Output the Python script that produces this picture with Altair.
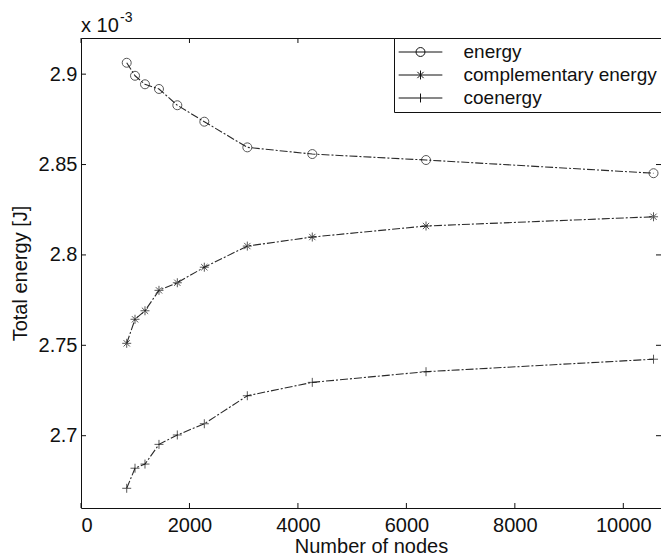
import altair as alt
import pandas as pd

# ---- data ----
nodes = [843, 996, 1180, 1438, 1776, 2274, 3067, 4265, 6362, 10557]
energy = [2.9063, 2.8991, 2.8944, 2.8918, 2.8828, 2.8737, 2.8595, 2.8558, 2.8525, 2.8452]
complementary = [2.7511, 2.7644, 2.7691, 2.7804, 2.7846, 2.7932, 2.8049, 2.8099, 2.8160, 2.8211]
coenergy = [2.6709, 2.6820, 2.6843, 2.6952, 2.7004, 2.7066, 2.7221, 2.7295, 2.7354, 2.7423]
series = ["energy", "complementary energy", "coenergy"]
x_ticks = [0, 2000, 4000, 6000, 8000, 10000]
y_ticks = [2.7, 2.75, 2.8, 2.85, 2.9]

rows = []
for name, vals in zip(series, [energy, complementary, coenergy]):
    for n, v in zip(nodes, vals):
        rows.append({"nodes": n, "value": v, "series": name})
df = pd.DataFrame(rows)
xt = pd.DataFrame({"nodes": x_ticks})
yt = pd.DataFrame({"value": y_ticks})

W, H = 580, 470
FONT = "Liberation Sans"
TL = 5  # inward tick length

xscale = alt.Scale(domain=[0, 10695], nice=False, zero=False)
yscale = alt.Scale(domain=[2.66, 2.92], nice=False, zero=False)

xaxis = alt.Axis(values=x_ticks, format="d", title="Number of nodes",
                 grid=False, domain=False, ticks=False, labelPadding=7,
                 titlePadding=1)
yaxis = alt.Axis(values=y_ticks, format="~g", title="Total energy [J]",
                 grid=False, domain=False, ticks=False, labelPadding=4,
                 titlePadding=8)

marker_paths = [
    "M1,0A1,1,0,1,1,-1,0A1,1,0,1,1,1,0Z",
    "M-1,0H1M0,-1V1M-0.7,-0.7L0.7,0.7M-0.7,0.7L0.7,-0.7",
    "M-1,0H1M0,-1V1",
]
# legend samples: a line through the marker (scale 9.5 px per unit)
legend_paths = [
    "M-2.3,0H2.3M0.47,0A0.47,0.47,0,1,1,-0.47,0A0.47,0.47,0,1,1,0.47,0Z",
    "M-2.3,0H2.3M0,-0.47V0.47M-0.33,-0.33L0.33,0.33M-0.33,0.33L0.33,-0.33",
    "M-2.3,0H2.3M0,-0.47V0.47",
]

base = alt.Chart(df)

lines = base.mark_line(color="#2a2a2a", strokeWidth=1.1, strokeDash=[8, 2, 2, 2]).encode(
    x=alt.X("nodes:Q", scale=xscale, axis=xaxis),
    y=alt.Y("value:Q", scale=yscale, axis=yaxis),
    detail="series:N",
)

points = base.mark_point(filled=False, color="#111", strokeWidth=1, size=81).encode(
    x=alt.X("nodes:Q", scale=xscale, axis=xaxis),
    y=alt.Y("value:Q", scale=yscale, axis=yaxis),
    shape=alt.Shape("series:N", scale=alt.Scale(domain=series, range=marker_paths), legend=None),
)

legend_layer = base.mark_point(filled=False, color="#111", strokeWidth=1, opacity=0).encode(
    x=alt.X("nodes:Q", scale=xscale, axis=xaxis),
    y=alt.Y("value:Q", scale=yscale, axis=yaxis),
    shape=alt.Shape(
        "series:N",
        scale=alt.Scale(domain=series, range=legend_paths),
        legend=alt.Legend(
            orient="none", legendX=313, legendY=0, title=None,
            labelFont=FONT, labelFontSize=19, labelColor="#111",
            symbolSize=361, symbolStrokeWidth=1, symbolStrokeColor="#111",
            symbolOpacity=1, symbolOffset=12.5, labelOffset=33, rowPadding=3,
            padding=4, strokeColor="#111", fillColor="white", labelLimit=400,
        ),
    ),
)

xt_bottom = alt.Chart(xt).mark_rule(color="#111").encode(
    x=alt.X("nodes:Q", scale=xscale, axis=xaxis), y=alt.value(H), y2=alt.value(H - TL))
xt_top = alt.Chart(xt).mark_rule(color="#111").encode(
    x=alt.X("nodes:Q", scale=xscale, axis=xaxis), y=alt.value(0), y2=alt.value(TL))
yt_left = alt.Chart(yt).mark_rule(color="#111").encode(
    y=alt.Y("value:Q", scale=yscale, axis=yaxis), x=alt.value(0), x2=alt.value(TL))
yt_right = alt.Chart(yt).mark_rule(color="#111").encode(
    y=alt.Y("value:Q", scale=yscale, axis=yaxis), x=alt.value(W - TL), x2=alt.value(W))

note = pd.DataFrame({"t": ["x 10"]})
exp = pd.DataFrame({"t": ["-3"]})
note_txt = alt.Chart(note).mark_text(font=FONT, fontSize=20, align="left", baseline="alphabetic",
                                     color="#111").encode(
    text="t:N", x=alt.value(0), y=alt.value(-6))
exp_txt = alt.Chart(exp).mark_text(font=FONT, fontSize=14, align="left", baseline="alphabetic",
                                   color="#111").encode(
    text="t:N", x=alt.value(39), y=alt.value(-16))

chart = alt.layer(
    lines, points, legend_layer, xt_bottom, xt_top, yt_left, yt_right, note_txt, exp_txt
).resolve_scale(shape="independent").resolve_legend(shape="independent").properties(
    width=W, height=H,
    autosize=alt.AutoSizeParams(type="none"),
    padding={"left": 73, "top": 30, "right": 0, "bottom": 48},
    background="white",
).configure_view(stroke="#111", strokeWidth=1).configure_axis(
    labelFont=FONT, labelFontSize=20, labelColor="#111",
    titleFont=FONT, titleFontSize=20, titleColor="#111", titleFontWeight="normal",
)

chart.save("out.html", embed_options={"renderer": "svg", "actions": False})
